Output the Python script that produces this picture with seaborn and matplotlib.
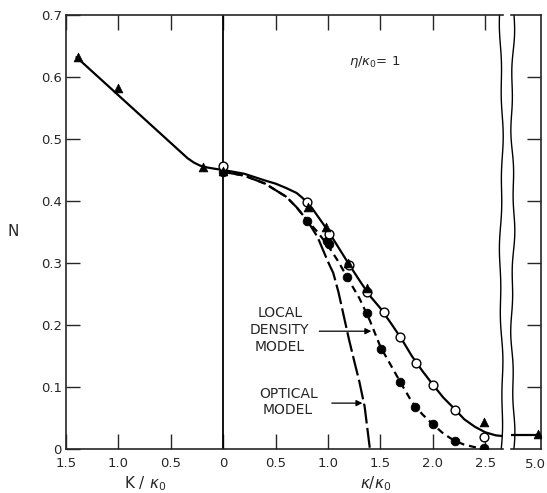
import numpy as np
import seaborn as sns
import matplotlib.pyplot as plt

sns.set_style("ticks")
plt.rcParams['font.family'] = ['DejaVu Sans']

# solid curve (full calculation), left branch given with negative x
solid_x = [-1.4, -0.34, -0.28, -0.22, -0.15, -0.08, 0, 0.2, 0.4, 0.5, 0.6, 0.7, 0.75, 0.8, 0.85,
           0.9, 0.95, 1.0, 1.1, 1.2, 1.3, 1.4, 1.5, 1.6, 1.7, 1.8, 1.9, 2.0, 2.1, 2.2, 2.3, 2.4,
           2.5, 2.6, 2.66]
solid_y = [0.632, 0.469, 0.462, 0.457, 0.454, 0.452, 0.450, 0.444, 0.433, 0.428, 0.421, 0.413,
           0.406, 0.398, 0.388, 0.376, 0.364, 0.352, 0.325, 0.298, 0.272, 0.247, 0.227, 0.203,
           0.178, 0.150, 0.126, 0.104, 0.083, 0.066, 0.048, 0.036, 0.027, 0.022, 0.021]

# local density model (short dashes)
local_x = [0, 0.2, 0.4, 0.6, 0.7, 0.8, 0.9, 1.0, 1.1, 1.2, 1.3, 1.4, 1.5, 1.6, 1.7, 1.8, 1.9,
           2.0, 2.1, 2.2, 2.3, 2.4, 2.5]
local_y = [0.447, 0.441, 0.428, 0.407, 0.390, 0.369, 0.350, 0.328, 0.302, 0.272, 0.243, 0.207,
           0.165, 0.135, 0.105, 0.076, 0.056, 0.040, 0.025, 0.014, 0.007, 0.003, 0.0]

# optical model (long dashes)
optical_x = [0, 0.2, 0.4, 0.6, 0.7, 0.8, 0.9, 1.0, 1.05, 1.1, 1.15, 1.2, 1.25, 1.3, 1.35, 1.4]
optical_y = [0.447, 0.441, 0.428, 0.407, 0.390, 0.369, 0.342, 0.302, 0.284, 0.253, 0.215,
             0.177, 0.142, 0.108, 0.068, 0.0]

open_x = [0, 0.8, 1.01, 1.2, 1.37, 1.53, 1.69, 1.84, 2.0, 2.21, 2.49]
open_y = [0.456, 0.399, 0.347, 0.297, 0.253, 0.221, 0.180, 0.139, 0.103, 0.063, 0.020]

filled_x = [0, 0.8, 0.99, 1.01, 1.18, 1.37, 1.51, 1.69, 1.83, 2.0, 2.21, 2.49]
filled_y = [0.446, 0.368, 0.335, 0.330, 0.277, 0.219, 0.161, 0.108, 0.068, 0.040, 0.013, 0.002]

tri_x = [-1.39, -1.0, -0.19, 0, 0.81, 0.98, 1.19, 1.37, 2.49]
tri_y = [0.632, 0.583, 0.455, 0.449, 0.390, 0.358, 0.300, 0.260, 0.044]

# far panel near k/k0 = 5
far_line_x = [4.7, 5.0]
far_line_y = [0.022, 0.022]
far_tri_x = [5.0]
far_tri_y = [0.024]

xticks = [-1.5, -1.0, -0.5, 0, 0.5, 1.0, 1.5, 2.0, 2.5]
xticklabels = ['1.5', '1.0', '0.5', '0', '0.5', '1.0', '1.5', '2.0', '2.5']
yticks = [0, 0.1, 0.2, 0.3, 0.4, 0.5, 0.6, 0.7]
yticklabels = ['0', '0.1', '0.2', '0.3', '0.4', '0.5', '0.6', '0.7']

W, H = 547, 493
fig = plt.figure(figsize=(W / 100, H / 100), dpi=100)
ax = fig.add_axes([66 / W, 1 - 449 / H, (503 - 66) / W, (449 - 15) / H])
ax2 = fig.add_axes([511 / W, 1 - 449 / H, (541 - 511) / W, (449 - 15) / H])

lw = 1.6
sns.lineplot(x=solid_x, y=solid_y, ax=ax, color='black', lw=lw, sort=False, estimator=None)
sns.lineplot(x=local_x, y=local_y, ax=ax, color='black', lw=lw, sort=False, estimator=None,
             linestyle=(0, (3.2, 2.2)))
sns.lineplot(x=optical_x, y=optical_y, ax=ax, color='black', lw=lw, sort=False, estimator=None,
             linestyle=(0, (9, 2)))

sns.scatterplot(x=filled_x, y=filled_y, ax=ax, color='black', marker='o', s=40,
                edgecolor='black', zorder=5)
sns.scatterplot(x=open_x, y=open_y, ax=ax, color='white', marker='o', s=40,
                edgecolor='black', linewidth=1, zorder=6)
sns.scatterplot(x=tri_x, y=tri_y, ax=ax, color='black', marker='^', s=40,
                edgecolor='black', zorder=7)

ax.axvline(0, color='black', lw=1.3)

ax.set_xlim(-1.5, 2.67)
ax.set_ylim(0, 0.7)
ax.set_xticks(xticks)
ax.set_xticklabels(xticklabels)
ax.set_yticks(yticks)
ax.set_yticklabels(yticklabels)
ax.tick_params(axis='x', direction='in', length=11, width=1, top=True, pad=6, labelsize=9.5)
ax.tick_params(axis='y', direction='in', length=10, width=1, pad=3, labelsize=9.5)
ax.spines['right'].set_visible(False)
for s in ['left', 'top', 'bottom']:
    ax.spines[s].set_linewidth(1.2)

# wavy break edges
t = np.linspace(0, 1, 120)
wob = 0.003 * np.sin(t * 11) + 0.0015 * np.sin(t * 37)
ax.plot(1 + wob - 0.004, t, transform=ax.transAxes, color='black', lw=1, clip_on=False)

sns.lineplot(x=far_line_x, y=far_line_y, ax=ax2, color='black', lw=lw, estimator=None)
sns.scatterplot(x=far_tri_x, y=far_tri_y, ax=ax2, color='black', marker='^', s=40,
                edgecolor='black', zorder=5)
ax2.set_xlim(4.7, 5.03)
ax2.set_ylim(0, 0.7)
ax2.set_xticks([5.0])
ax2.set_xticklabels([''])
ax2.set_yticks(yticks[1:-1])
ax2.yaxis.tick_right()
ax2.tick_params(axis='y', direction='in', length=10, width=1, labelright=False)
ax2.tick_params(axis='x', length=0)
ax2.spines['left'].set_visible(False)
for s in ['right', 'top', 'bottom']:
    ax2.spines[s].set_linewidth(1.2)
wob2 = 0.045 * np.sin(t * 13 + 1) + 0.025 * np.sin(t * 41)
ax2.plot(0.06 + wob2, t, transform=ax2.transAxes, color='black', lw=1, clip_on=False)
fig.text(546 / W, 1 - 464 / H, '5.0', ha='right', va='center', fontsize=9.5)

ax.set_xlabel('')
ax.set_ylabel('')
fig.text(13 / W, 1 - 232 / H, 'N', ha='center', va='center', fontsize=11)
fig.text(145 / W, 1 - 484 / H, r'$\mathrm{K}\ /\ \kappa_0$', ha='center', va='center', fontsize=11)
fig.text(376 / W, 1 - 484 / H, r'$\kappa/\kappa_0$', ha='center', va='center', fontsize=11)

ax.text(1.45, 0.624, r'$\eta/\kappa_0$= 1', ha='center', va='center', fontsize=9.5)

ax.text(0.54, 0.192, 'LOCAL\nDENSITY\nMODEL', ha='center', va='center', fontsize=10,
        linespacing=1.25)
ax.annotate('', xy=(1.44, 0.19), xytext=(0.89, 0.19),
            arrowprops=dict(arrowstyle='-|>', color='black', lw=0.9, mutation_scale=9))
ax.text(0.62, 0.076, 'OPTICAL\nMODEL', ha='center', va='center', fontsize=10,
        linespacing=1.25)
ax.annotate('', xy=(1.355, 0.074), xytext=(1.01, 0.074),
            arrowprops=dict(arrowstyle='-|>', color='black', lw=0.9, mutation_scale=9))

fig.savefig('out.png', dpi=100, facecolor='white')
